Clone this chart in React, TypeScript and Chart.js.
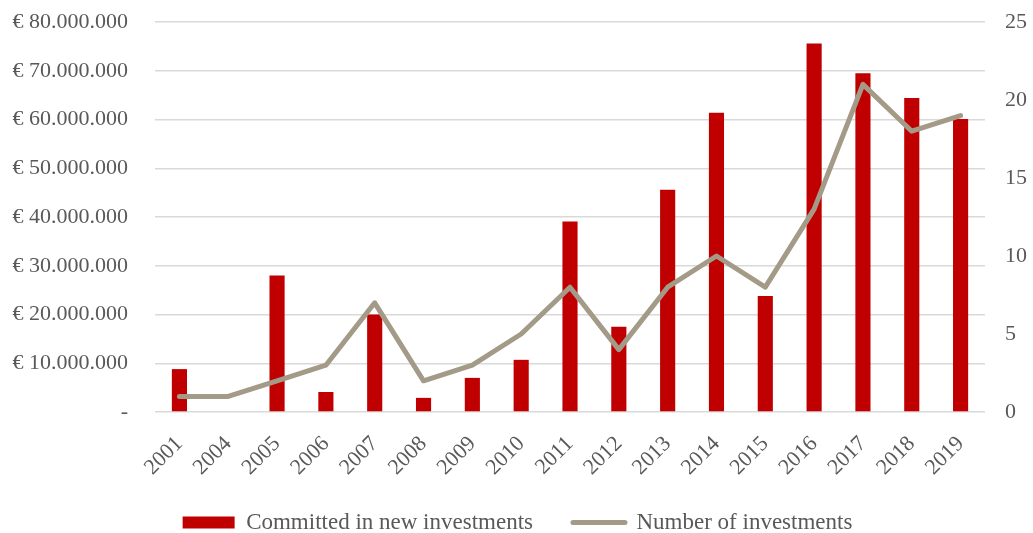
import React, { useEffect, useRef } from "react";
import { Chart, registerables } from "chart.js";

Chart.register(...registerables);

const categories = ["2001","2004","2005","2006","2007","2008","2009","2010","2011","2012","2013","2014","2015","2016","2017","2018","2019"];
const committed = [8.8e6, 0, 28e6, 4.1e6, 20e6, 2.9e6, 7e6, 10.7e6, 39.1e6, 17.5e6, 45.6e6, 61.4e6, 23.8e6, 75.6e6, 69.5e6, 64.4e6, 60.1e6];
const numberOfInvestments = [1, 1, 2, 3, 7, 2, 3, 5, 8, 4, 8, 10, 8, 13, 21, 18, 19];

const FONT = "'Liberation Serif', 'Times New Roman', serif";
const TEXT = "#595959";

function formatEuro(v: number): string {
  if (v === 0) return "-";
  const s = Math.round(v).toString().replace(/\B(?=(\d{3})+(?!\d))/g, ".");
  return "€ " + s;
}

export default function App() {
  const ref = useRef<HTMLCanvasElement | null>(null);
  useEffect(() => {
    document.body.style.margin = "0";
    if (!ref.current) return;
    const chart = new Chart(ref.current, {
      data: {
        labels: categories,
        datasets: [
          {
            type: "line",
            label: "Number of investments",
            data: numberOfInvestments,
            borderColor: "#a39a87",
            backgroundColor: "#a39a87",
            borderWidth: 5,
            pointRadius: 0,
            borderCapStyle: "round",
            borderJoinStyle: "round",
            tension: 0,
            yAxisID: "y1",
            order: 0,
          },
          {
            type: "bar",
            label: "Committed in new investments",
            data: committed,
            backgroundColor: "#c00000",
            borderWidth: 0,
            barPercentage: 0.31,
            categoryPercentage: 1,
            yAxisID: "y",
            order: 1,
          },
        ],
      },
      options: {
        animation: false,
        responsive: false,
        layout: { padding: { top: 22, left: 8, right: 6, bottom: -11 } },
        scales: {
          x: {
            grid: { display: false },
            border: { display: false },
            afterFit: (s: any) => {
              s.height = 59;
              s._computeLabelArea = () => undefined;
            },
            ticks: {
              color: TEXT,
              font: { family: FONT, size: 22 },
              minRotation: 45,
              maxRotation: 45,
              padding: 11,
            },
          },
          y: {
            position: "left",
            min: 0,
            max: 80e6,
            border: { display: false },
            afterFit: (s: any) => {
              s.width = 147;
              s.paddingTop = 0;
              s.paddingBottom = 0;
            },
            grid: { color: "#d9d9d9", lineWidth: 1.5, drawTicks: false },
            ticks: {
              stepSize: 10e6,
              color: TEXT,
              font: { family: FONT, size: 22 },
              padding: 27,
              callback: (v: any) => formatEuro(Number(v)),
            },
          },
          y1: {
            position: "right",
            min: 0,
            max: 25,
            border: { display: false },
            afterFit: (s: any) => {
              s.width = 42;
              s.paddingTop = 0;
              s.paddingBottom = 0;
            },
            grid: { display: false, drawTicks: false },
            ticks: {
              stepSize: 5,
              color: TEXT,
              font: { family: FONT, size: 22 },
              padding: 20,
            },
          },
        },
        plugins: {
          tooltip: { enabled: false },
          legend: {
            position: "bottom",
            reverse: true,
            labels: {
              color: TEXT,
              font: { family: FONT, size: 23 },
              usePointStyle: true,
              pointStyleWidth: 52,
              boxHeight: 12,
              padding: 40,
              generateLabels: (c: any) => {
                const items = (Chart.defaults.plugins.legend.labels as any).generateLabels(c);
                for (const it of items) {
                  if (it.datasetIndex === 1) {
                    it.pointStyle = "rect";
                    it.lineWidth = 0;
                    it.fillStyle = "#c00000";
                    it.strokeStyle = "#c00000";
                  } else {
                    it.pointStyle = "line";
                    it.lineWidth = 5;
                    it.lineCap = "round";
                    it.strokeStyle = "#a39a87";
                  }
                }
                return items;
              },
            },
          },
        },
      },
    } as any);
    return () => chart.destroy();
  }, []);
  return (
    <div style={{ width: 1033, height: 533 }}>
      <canvas ref={ref} width={1033} height={533} style={{ display: "block" }} />
    </div>
  );
}
